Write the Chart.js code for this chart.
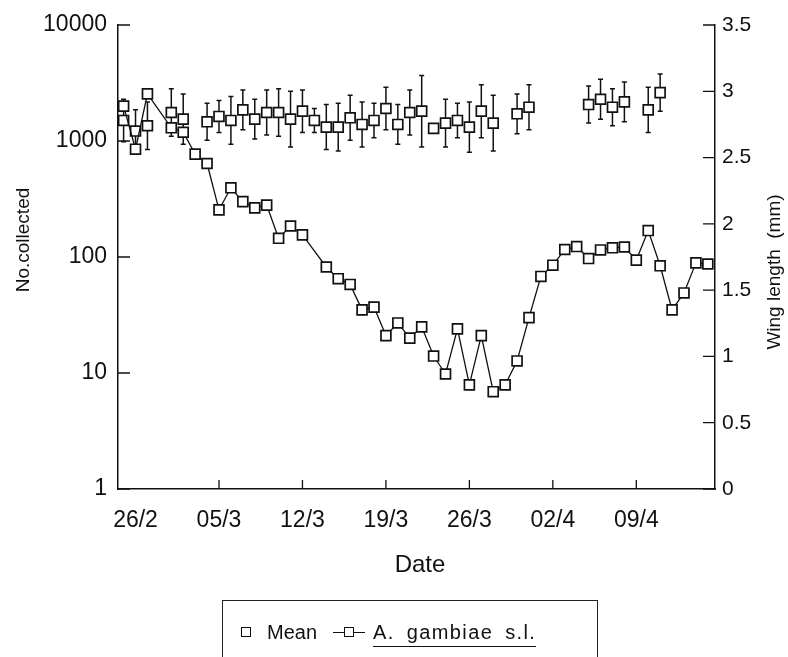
<!DOCTYPE html>
<html>
<head>
<meta charset="utf-8">
<script src="https://cdn.jsdelivr.net/npm/chart.js@4.4.1/dist/chart.umd.min.js"></script>
<style>
  html, body { margin: 0; padding: 0; background: #fff; }
  #wrap { position: relative; width: 788px; height: 657px; overflow: hidden; }
  #legend {
    position: absolute; left: 222px; top: 600px; width: 376px; height: 90px;
    border: 1.5px solid #222; box-sizing: border-box;
    font-family: 'Liberation Sans', Arial, sans-serif; font-size: 20px; color: #111;
  }
  #legend .sq { position: absolute; width: 10px; height: 10px; border: 1.5px solid #111; background: #fff; box-sizing: border-box; }
  #legend .ln { position: absolute; height: 1.3px; background: #111; }
  #legend .txt { position: absolute; line-height: 24px; white-space: nowrap; }
</style>
</head>
<body>
<div id="wrap">
  <canvas id="chart" width="788" height="657"></canvas>
  <div id="legend">
    <span class="sq" style="left:18px; top:26px;"></span>
    <span class="txt" style="left:44px; top:19px;">Mean</span>
    <span class="ln" style="left:110px; top:31px; width:32px;"></span>
    <span class="sq" style="left:121px; top:26px;"></span>
    <span class="txt" style="left:150px; top:19px; letter-spacing:1.4px; word-spacing:5px; border-bottom:1.5px solid #111; padding-bottom:2px;">A. gambiae s.l.</span>
  </div>
</div>
<script>
// ------------------------------------------------------------
// Dados (dia 0 = 26/2)
// ------------------------------------------------------------
const TICK_DAYS = [0, 7, 14, 21, 28, 35, 42];
const TICK_LABELS = ['26/2', '05/3', '12/3', '19/3', '26/3', '02/4', '09/4'];
const COUNT_TICKS = [1, 10, 100, 1000, 10000];

// A. gambiae s.l. — número coletado (escala log)
const countDays = [-1, 0, 1, 3, 4, 5, 6, 7, 8, 9, 10, 11, 12, 13, 14,
  16, 17, 18, 19, 20, 21, 22, 23, 24, 25, 26, 27, 28, 29, 30, 31, 32,
  33, 34, 35, 36, 37, 38, 39, 40, 41, 42, 43, 44, 45, 46, 47, 48];
const countValues = [2000, 850, 2550, 1300, 1190, 770, 640, 255, 395, 300, 265, 280, 145, 185, 155,
  82, 65, 58, 35, 37, 21, 27, 20, 25, 14, 9.8, 24, 7.9, 21, 6.9, 7.9, 12.7,
  30, 68, 85, 116, 123, 97, 115, 120, 122, 94, 169, 84, 35, 49, 89, 87];

// Média do comprimento da asa (mm) e barra de erro
const meanDays = [-1, 0, 1, 3, 4, 6, 7, 8, 9, 10, 11, 12, 13, 14, 15, 16, 17, 18,
  19, 20, 21, 22, 23, 24, 25, 26, 27, 28, 29, 30, 32, 33, 38, 39, 40, 41, 43, 44];
const meanWing = [2.78, 2.70, 2.74, 2.84, 2.79, 2.77, 2.81, 2.78, 2.86, 2.79, 2.84, 2.84, 2.79, 2.85, 2.78, 2.73, 2.73, 2.80,
  2.75, 2.78, 2.87, 2.75, 2.84, 2.85, 2.72, 2.76, 2.78, 2.73, 2.85, 2.76, 2.83, 2.88, 2.90, 2.94, 2.88, 2.92, 2.86, 2.99];
const meanErr = [0.16, 0.16, 0.18, 0.18, 0.19, 0.14, 0.12, 0.18, 0.15, 0.15, 0.17, 0.18, 0.21, 0.16, 0.09, 0.17, 0.18, 0.17,
  0.17, 0.13, 0.16, 0.15, 0.17, 0.27, 0, 0.18, 0.13, 0.19, 0.20, 0.21, 0.15, 0.17, 0.14, 0.15, 0.14, 0.15, 0.17, 0.14];

const INK = '#111';
const FONT = "'Liberation Sans', Arial, sans-serif";

// barras de erro, desenhadas por baixo dos marcadores
const errorBars = {
  id: 'errorBars',
  beforeDatasetsDraw(chart) {
    const { ctx, scales: { x, y1 } } = chart;
    ctx.save();
    ctx.strokeStyle = INK;
    ctx.lineWidth = 1.5;
    meanDays.forEach((d, i) => {
      if (!meanErr[i]) return;
      const px = x.getPixelForValue(d);
      const top = y1.getPixelForValue(meanWing[i] + meanErr[i]);
      const bot = y1.getPixelForValue(meanWing[i] - meanErr[i]);
      ctx.beginPath();
      ctx.moveTo(px, top); ctx.lineTo(px, bot);
      ctx.moveTo(px - 2.5, top); ctx.lineTo(px + 2.5, top);
      ctx.moveTo(px - 2.5, bot); ctx.lineTo(px + 2.5, bot);
      ctx.stroke();
    });
    ctx.restore();
  },
};

// marcas para dentro + títulos dos eixos
const moldura = {
  id: 'moldura',
  afterDraw(chart) {
    const { ctx, chartArea: a, scales: { x, y, y1 } } = chart;
    ctx.save();
    ctx.strokeStyle = INK;
    ctx.lineWidth = 1.3;
    ctx.beginPath();
    TICK_DAYS.forEach((d) => {
      if (d === 0) return; // sem marca visível em 26/2
      const px = x.getPixelForValue(d);
      ctx.moveTo(px, a.bottom); ctx.lineTo(px, a.bottom - 9);
    });
    COUNT_TICKS.forEach((v) => {
      const py = y.getPixelForValue(v);
      ctx.moveTo(a.left, py); ctx.lineTo(a.left + 12, py);
    });
    y1.ticks.forEach((t) => {
      const py = y1.getPixelForValue(t.value);
      ctx.moveTo(a.right, py); ctx.lineTo(a.right - 12, py);
    });
    ctx.stroke();

    ctx.fillStyle = INK;
    ctx.textAlign = 'center';
    ctx.textBaseline = 'middle';
    ctx.font = `19px ${FONT}`;
    ctx.save();
    ctx.translate(24, 240);
    ctx.rotate(-Math.PI / 2);
    ctx.fillText('No.collected', 0, 0);
    ctx.restore();
    ctx.save();
    ctx.translate(775, 272);
    ctx.rotate(-Math.PI / 2);
    ctx.fillText('Wing length  (mm)', 0, 0);
    ctx.restore();
    ctx.font = `24px ${FONT}`;
    ctx.fillText('Date', 420, 565);
    ctx.restore();
  },
};

Chart.defaults.color = INK;
Chart.defaults.font.family = FONT;

new Chart(document.getElementById('chart'), {
  type: 'scatter',
  data: {
    datasets: [
      {
        label: 'A. gambiae s.l.',
        data: countDays.map((d, i) => ({ x: d, y: countValues[i] })),
        yAxisID: 'y',
        showLine: true,
        borderColor: INK,
        borderWidth: 1.3,
        pointStyle: 'rect',
        pointRadius: 7,
        pointBorderWidth: 1.7,
        pointBackgroundColor: '#fff',
        pointBorderColor: INK,
      },
      {
        label: 'Mean',
        data: meanDays.map((d, i) => ({ x: d, y: meanWing[i] })),
        yAxisID: 'y1',
        showLine: false,
        pointStyle: 'rect',
        pointRadius: 7,
        pointBorderWidth: 1.7,
        pointBackgroundColor: '#fff',
        pointBorderColor: INK,
      },
    ],
  },
  options: {
    responsive: false,
    animation: false,
    layout: { padding: { top: 25, left: 0, right: 0, bottom: 0 } },
    plugins: { legend: { display: false }, tooltip: { enabled: false } },
    scales: {
      x: {
        type: 'linear',
        position: 'bottom',
        min: -1.47,
        max: 48.6,
        afterBuildTicks: (s) => { s.ticks = TICK_DAYS.map((v) => ({ value: v })); },
        afterFit: (s) => { s.height = 168; },
        ticks: {
          autoSkip: false,
          maxRotation: 0,
          padding: 18,
          font: { size: 23 },
          callback: (v) => TICK_LABELS[TICK_DAYS.indexOf(v)],
        },
        grid: { drawOnChartArea: false, drawTicks: false },
        border: { display: true, color: INK, width: 1.5 },
      },
      y: {
        type: 'logarithmic',
        position: 'left',
        min: 1,
        max: 10000,
        afterBuildTicks: (s) => { s.ticks = COUNT_TICKS.map((v) => ({ value: v })); },
        afterFit: (s) => { s.width = 118; },
        ticks: { padding: 11, font: { size: 23 }, callback: (v) => String(v) },
        grid: { drawOnChartArea: false, drawTicks: false },
        border: { display: true, color: INK, width: 1.5 },
      },
      y1: {
        type: 'linear',
        position: 'right',
        min: 0,
        max: 3.5,
        afterFit: (s) => { s.width = 73; },
        ticks: { stepSize: 0.5, padding: 7, font: { size: 21 }, callback: (v) => String(v) },
        grid: { drawOnChartArea: false, drawTicks: false },
        border: { display: true, color: INK, width: 1.5 },
      },
    },
  },
  plugins: [errorBars, moldura],
});
</script>
</body>
</html>
